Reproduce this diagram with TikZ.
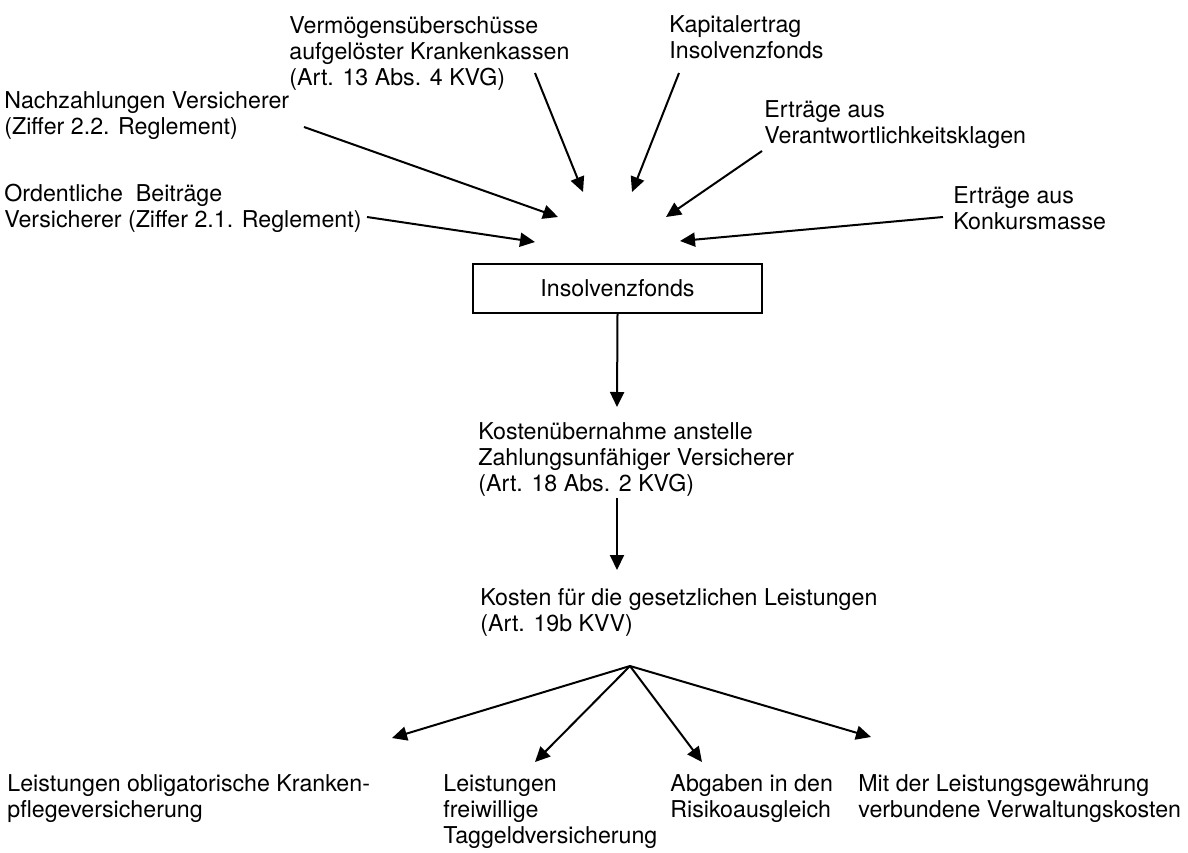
\documentclass[tikz,border=0pt]{standalone}
\usepackage{fontspec}
\setmainfont{TeX Gyre Heros}
\usetikzlibrary{arrows.meta}

\begin{document}
\begin{tikzpicture}[x=0.5pt,y=-0.5pt,
    txt/.style={anchor=base west, align=left, inner sep=0pt, font=\fontsize{11.6}{13}\selectfont},
    flow/.style={-{Triangle[length=7.5pt,width=7pt]}, line width=1pt}]
  \useasboundingbox (0,0) rectangle (1188,852);
  % Einnahmen (base = letzte Zeile)
  \node[txt] (verm) at (289,85) {Vermögensüberschüsse\\aufgelöster Krankenkassen\\(Art. 13 Abs. 4 KVG)};
  \node[txt] (kapital) at (669,58) {Kapitalertrag\\Insolvenzfonds};
  \node[txt] (nachz) at (4,134) {Nachzahlungen Versicherer\\(Ziffer 2.2. Reglement)};
  \node[txt] (verantw) at (764,143) {Erträge aus\\Verantwortlichkeitsklagen};
  \node[txt] (ordentl) at (4,227) {Ordentliche\ \ Beiträge\\Versicherer (Ziffer 2.1. Reglement)};
  \node[txt] (konkurs) at (953,229) {Erträge aus\\Konkursmasse};
  % Fonds
  \node[draw, line width=1pt, minimum width=144.5pt, minimum height=24.5pt,
        font=\fontsize{11.6}{13}\selectfont] (fonds) at (617.5,288.5) {Insolvenzfonds};
  % Ausgaben
  \node[txt] (uebernahme) at (478,491) {Kostenübernahme anstelle\\Zahlungsunfähiger Versicherer\\(Art. 18 Abs. 2 KVG)};
  \node[txt] (kosten) at (480,631) {Kosten für die gesetzlichen Leistungen\\(Art. 19b KVV)};
  \node[txt] (oblig) at (7,817) {Leistungen obligatorische Kranken-\\pflegeversicherung};
  \node[txt] (taggeld) at (443,843) {Leistungen\\freiwillige\\Taggeldversicherung};
  \node[txt] (risiko) at (670,817) {Abgaben in den\\Risikoausgleich};
  \node[txt] (verwalt) at (858,817) {Mit der Leistungsgewährung\\verbundene Verwaltungskosten};
  % Pfeilenden
  \coordinate (verm-s) at (535,73);    \coordinate (verm-e) at (583,192);
  \coordinate (kapital-s) at (679,73); \coordinate (kapital-e) at (632,192);
  \coordinate (nachz-s) at (304,127);  \coordinate (nachz-e) at (558,217);
  \coordinate (verantw-s) at (762,151);\coordinate (verantw-e) at (666,217);
  \coordinate (ordentl-s) at (367,217);\coordinate (ordentl-e) at (535,242);
  \coordinate (konkurs-s) at (943,217);\coordinate (konkurs-e) at (680,241);
  \coordinate (uebernahme-n) at (617,407);
  \coordinate (uebernahme-s) at (617,498);
  \coordinate (kosten-n) at (617,570);
  \coordinate (fan) at (630,666);
  \coordinate (oblig-n) at (392,738);
  \coordinate (taggeld-n) at (535,762);
  \coordinate (risiko-n) at (702,762);
  \coordinate (verwalt-n) at (871,737);
  % Pfeile
  \foreach \src in {verm, kapital, nachz, verantw, ordentl, konkurs}
    \draw[flow] (\src-s) -- (\src-e);
  \draw[flow] (fonds.south) -- (uebernahme-n);
  \draw[flow] (uebernahme-s) -- (kosten-n);
  \foreach \dst in {oblig, taggeld, risiko, verwalt}
    \draw[flow] (fan) -- (\dst-n);
\end{tikzpicture}
\end{document}
